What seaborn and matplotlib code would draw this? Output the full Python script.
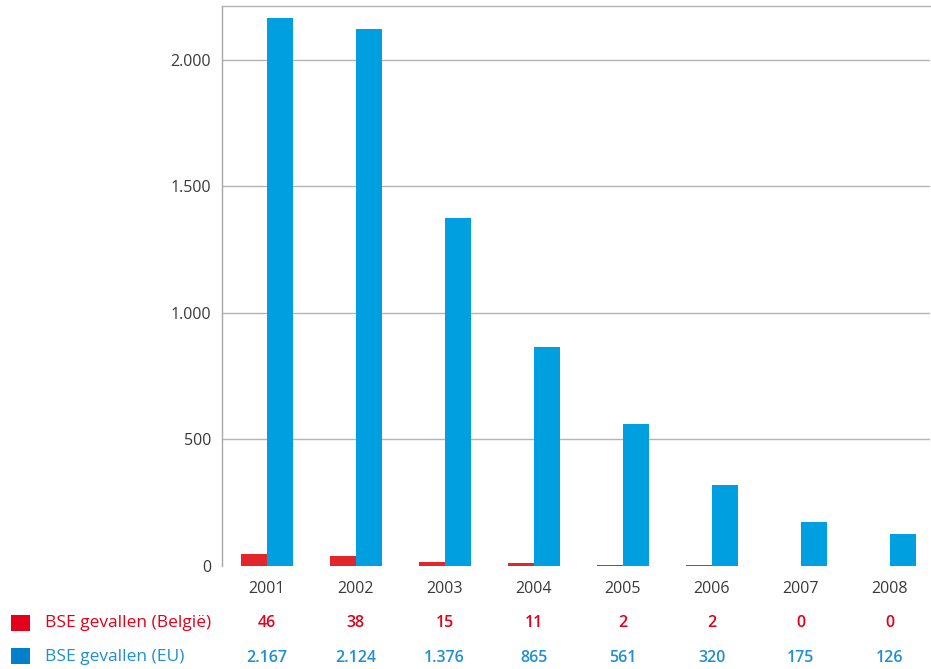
import pandas as pd
import seaborn as sns
import matplotlib.pyplot as plt
import matplotlib.transforms as mtransforms
from matplotlib.patches import Rectangle

#%% Data
years = ["2001", "2002", "2003", "2004", "2005", "2006", "2007", "2008"]
belgie = [46, 38, 15, 11, 2, 2, 0, 0]
eu = [2167, 2124, 1376, 865, 561, 320, 175, 126]
series = ["BSE gevallen (België)", "BSE gevallen (EU)"]
yticks = [0, 500, 1000, 1500, 2000]

red_bar = "#e3262b"
blue_bar = "#009fe0"
red_txt = "#e2001a"
blue_txt = "#1e8fd2"
grid_col = "#b4b4b4"
text_col = "#3a3a3a"


def nl(v):
    # Dutch thousands separator
    return f"{v:,}".replace(",", ".")


df = pd.DataFrame({
    "jaar": years * 2,
    "waarde": belgie + eu,
    "reeks": [series[0]] * len(years) + [series[1]] * len(years),
})

#%% Plot
sns.set_style("white")
plt.rcParams["font.family"] = ["Open Sans", "DejaVu Sans"]

fig = plt.figure(figsize=(9.31, 6.69), dpi=100)
ax = fig.add_axes([222 / 931, 1 - 566 / 669, 708 / 931, 560 / 669])

sns.barplot(data=df, x="jaar", y="waarde", hue="reeks", order=years,
            hue_order=series, palette=[red_bar, blue_bar], width=0.584,
            saturation=1, legend=False, linewidth=0, edgecolor="none",
            ax=ax, zorder=3)

ax.set_xlim(-0.5, 7.45)
ax.set_ylim(0, 2213)
ax.set_yticks(yticks)
ax.set_yticklabels([nl(v) for v in yticks], color=text_col, fontsize=11.5)
ax.tick_params(axis="y", length=0, pad=8)
ax.set_xticks([])
ax.set_xlabel(None)
ax.set_ylabel(None)
ax.yaxis.grid(True, color=grid_col, linewidth=1, zorder=0)
ax.get_ygridlines()[0].set_visible(False)
ax.set_axisbelow(True)

for side in ["right", "bottom"]:
    ax.spines[side].set_visible(False)
ax.spines["left"].set_color("#a8a8a8")
ax.spines["top"].set_color(grid_col)
ax.spines["left"].set_linewidth(1)
ax.spines["top"].set_linewidth(1)

# data table under the chart
trans = mtransforms.blended_transform_factory(ax.transData, fig.transFigure)
for i, yr in enumerate(years):
    ax.text(i, 1 - 589 / 669, yr, transform=trans, ha="center", va="center",
            fontsize=11.5, color=text_col, clip_on=False)
    ax.text(i, 1 - 623 / 669, nl(belgie[i]), transform=trans, ha="center",
            va="center", fontsize=11.5, fontweight="semibold", color=red_txt,
            clip_on=False)
    ax.text(i, 1 - 658 / 669, nl(eu[i]), transform=trans, ha="center",
            va="center", fontsize=11.5, fontweight="semibold", color=blue_txt,
            clip_on=False)

# row labels with colour keys
fig.add_artist(Rectangle((11 / 931, 1 - 631 / 669), 19 / 931, 16 / 669,
                         transform=fig.transFigure, facecolor="#e2001a",
                         edgecolor="none"))
fig.add_artist(Rectangle((11 / 931, 1 - 664 / 669), 19 / 931, 16 / 669,
                         transform=fig.transFigure, facecolor="#0080c8",
                         edgecolor="none"))
fig.text(45 / 931, 1 - 623 / 669, series[0], ha="left", va="center",
         fontsize=12.5, color=red_txt)
fig.text(45 / 931, 1 - 657 / 669, series[1], ha="left", va="center",
         fontsize=12.5, color=blue_txt)

fig.savefig("out.png", dpi=100)
